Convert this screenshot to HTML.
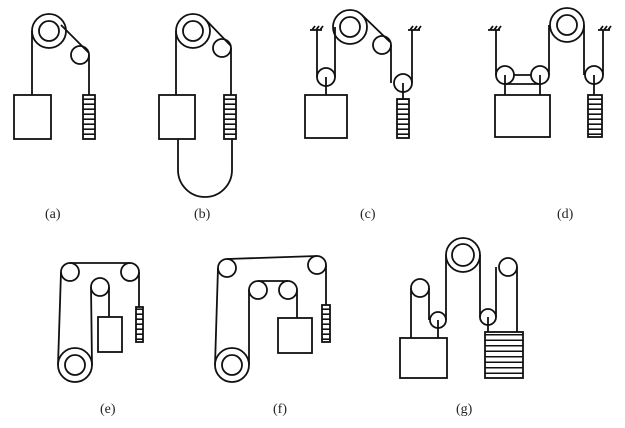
<!DOCTYPE html>
<html><head><meta charset="utf-8"><style>
html,body{margin:0;padding:0;background:#fff;}
svg{display:block}
text{font-family:"Liberation Serif",serif;font-size:14px;fill:#222}
</style></head><body>
<svg width="625" height="428" viewBox="0 0 625 428" xmlns="http://www.w3.org/2000/svg">
<defs>
<pattern id="cw" width="5" height="5" patternUnits="userSpaceOnUse"><rect width="5" height="5" fill="#fff"/><rect y="3.4" width="5" height="1.6" fill="#111"/></pattern>
<pattern id="cw2" width="6" height="5.5" patternUnits="userSpaceOnUse"><rect width="6" height="5.5" fill="#fff"/><rect y="4" width="6" height="1.5" fill="#111"/></pattern>
</defs>
<g fill="none" stroke="#111" stroke-width="1.8">
<!-- (a) -->
<circle cx="49" cy="31" r="17"/><circle cx="49" cy="31" r="10"/>
<circle cx="80" cy="55" r="9"/>
<path d="M32,31 V95 M61,25 L89,53 M89,55 V95"/>
<rect x="14" y="95" width="37" height="44"/>
<rect x="83" y="95" width="12" height="44" fill="url(#cw)"/>
<!-- (b) -->
<circle cx="193" cy="31" r="17"/><circle cx="193" cy="31" r="10"/>
<circle cx="222" cy="48" r="9"/>
<path d="M176,31 V95 M205,19 L231,46 M231,48 V95"/>
<rect x="159" y="95" width="36" height="44"/>
<rect x="224" y="95" width="12" height="44" fill="url(#cw)"/>
<path d="M178,139 V170 A27,27 0 0 0 232,170 V139"/>
<!-- (c) -->
<circle cx="350" cy="27" r="17"/><circle cx="350" cy="27" r="10"/>
<circle cx="382" cy="45" r="9"/>
<circle cx="326" cy="77" r="9"/>
<circle cx="403" cy="83" r="9"/>
<path d="M317,30 V77 M335,77 V27 M362,15 L390,42 M391,45 V83 M412,83 V30 M326,77 V95 M403,83 V99"/>
<path d="M310,30 H322 M312,30 l3,-4 M316,30 l3,-4 M320,30 l3,-4 M408,30 H420 M410,30 l3,-4 M414,30 l3,-4 M418,30 l3,-4"/>
<rect x="305" y="95" width="42" height="43"/>
<rect x="397" y="99" width="12" height="39" fill="url(#cw)"/>
<!-- (d) -->
<circle cx="567" cy="25" r="17"/><circle cx="567" cy="25" r="10"/>
<circle cx="505" cy="75" r="9"/><circle cx="540" cy="75" r="9"/><circle cx="594" cy="75" r="9"/>
<path d="M496,30 V75 M514,75 H531 M549,75 V25 M584,25 V75 M603,75 V30 M505,75 V95 M540,75 V95 M505,84 H540 M594,75 V95"/>
<path d="M488,30 H500 M490,30 l3,-4 M494,30 l3,-4 M498,30 l3,-4 M598,30 H610 M600,30 l3,-4 M604,30 l3,-4 M608,30 l3,-4"/>
<rect x="495" y="95" width="55" height="42"/>
<rect x="588" y="95" width="14" height="42" fill="url(#cw)"/>
<!-- (e) -->
<circle cx="70" cy="272" r="9"/><circle cx="130" cy="272" r="9"/><circle cx="100" cy="287" r="9"/>
<circle cx="75" cy="365" r="17"/><circle cx="75" cy="365" r="10"/>
<path d="M70,263 H130 M61,272 L58,365 M139,272 V307 M92,365 L91,287 M109,287 V317"/>
<rect x="98" y="317" width="24" height="35"/>
<rect x="136" y="307" width="7" height="35" fill="url(#cw)"/>
<!-- (f) -->
<circle cx="227" cy="268" r="9"/><circle cx="317" cy="265" r="9"/>
<circle cx="258" cy="290" r="9"/><circle cx="288" cy="290" r="9"/>
<circle cx="232" cy="365" r="17"/><circle cx="232" cy="365" r="10"/>
<path d="M227,259 L317,256 M218,268 L215,365 M326,265 V305 M249,365 V290 M258,281 H288 M297,290 V318"/>
<rect x="278" y="318" width="34" height="35"/>
<rect x="322" y="305" width="8" height="37" fill="url(#cw)"/>
<!-- (g) -->
<circle cx="463" cy="255" r="17"/><circle cx="463" cy="255" r="11"/>
<circle cx="420" cy="288" r="9"/><circle cx="438" cy="320" r="8"/>
<circle cx="508" cy="267" r="9"/><circle cx="488" cy="317" r="8"/>
<path d="M411,288 V338 M429,288 V320 M446,320 V255 M480,255 V317 M496,317 V267 M517,267 V332 M438,320 V338 M488,317 V332"/>
<rect x="400" y="338" width="47" height="40"/>
<rect x="485" y="332" width="38" height="46" fill="url(#cw2)"/>
</g>
<text x="45" y="218">(a)</text>
<text x="194" y="218">(b)</text>
<text x="360" y="218">(c)</text>
<text x="557" y="218">(d)</text>
<text x="100" y="413">(e)</text>
<text x="273" y="413">(f)</text>
<text x="456" y="413">(g)</text>
</svg>
</body></html>
